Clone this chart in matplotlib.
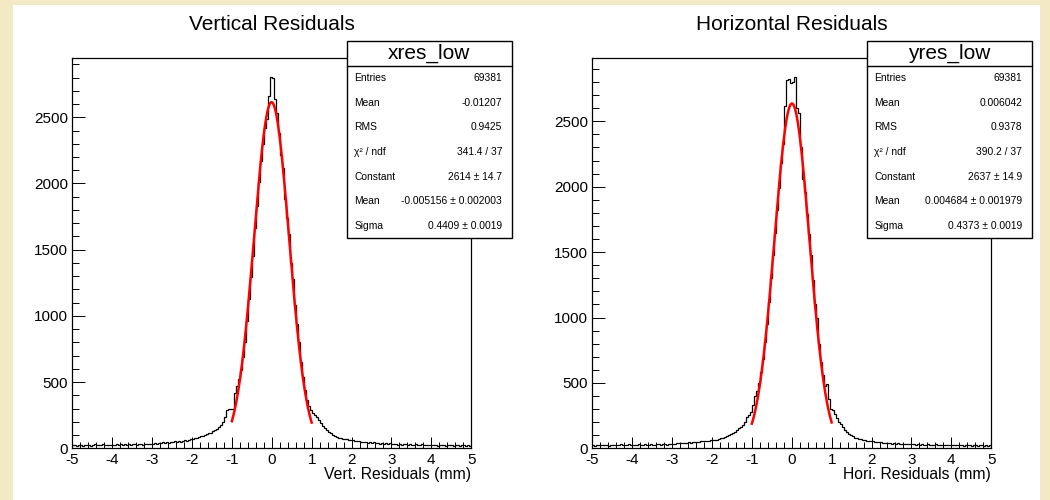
import numpy as np
import matplotlib
matplotlib.use("Agg")
import matplotlib.pyplot as plt
from matplotlib.patches import Rectangle
from matplotlib.ticker import MultipleLocator

plt.rcParams['font.family'] = ['Liberation Sans', 'DejaVu Sans']

# ---------------- data ----------------
bin_lo, bin_hi, n_bins = -5.0, 5.0, 200

xres_counts = [
    22, 25, 19, 27, 24, 21, 28, 23, 26, 20,
    25, 29, 22, 27, 24, 30, 23, 26, 28, 25,
    27, 24, 31, 26, 29, 25, 32, 28, 30, 27,
    33, 29, 26, 34, 31, 28, 35, 30, 33, 36,
    34, 38, 36, 41, 39, 44, 40, 46, 43, 48,
    45, 52, 49, 55, 51, 58, 60, 57, 64, 67,
    72, 76, 80, 84, 90, 96, 101, 106, 112, 118,
    128, 138, 146, 158, 176, 196, 238, 288, 294, 300,
    300, 415, 470, 520, 590, 690, 800, 960, 1130, 1290,
    1450, 1660, 1830, 2010, 2170, 2300, 2420, 2490, 2660, 2805,
    2800, 2640, 2530, 2380, 2215, 2120, 1880, 1740, 1620, 1400,
    1280, 1080, 940, 800, 650, 540, 440, 365, 320, 290,
    270, 250, 235, 215, 190, 170, 155, 140, 122, 115,
    100, 96, 82, 76, 78, 72, 74, 70, 66, 62,
    60, 57, 52, 55, 48, 50, 45, 47, 42, 44,
    40, 46, 38, 41, 36, 39, 35, 43, 34, 37,
    33, 30, 35, 28, 31, 27, 32, 29, 26, 30,
    25, 28, 31, 24, 27, 29, 23, 26, 28, 25,
    22, 27, 24, 21, 26, 23, 25, 20, 24, 22,
    27, 21, 23, 25, 20, 24, 22, 19, 23, 21,
]

yres_counts = [
    24, 21, 27, 23, 26, 22, 28, 25, 20, 27,
    24, 29, 22, 26, 30, 23, 27, 25, 31, 24,
    28, 26, 22, 30, 27, 25, 33, 28, 24, 31,
    29, 27, 34, 30, 26, 32, 35, 29, 33, 31,
    36, 34, 39, 37, 41, 38, 44, 40, 46, 43,
    48, 45, 50, 47, 53, 55, 52, 58, 56, 61,
    60, 64, 66, 70, 75, 80, 86, 92, 100, 108,
    115, 122, 140, 152, 160, 175, 200, 240, 255, 280,
    330, 400, 440, 500, 580, 680, 810, 950, 1120, 1300,
    1480, 1650, 1820, 1990, 2180, 2330, 2620, 2815, 2825, 2790,
    2800, 2840, 2600, 2560, 2300, 2060, 1960, 1790, 1640, 1480,
    1284, 1100, 1000, 801, 661, 560, 480, 495, 380, 300,
    290, 265, 230, 200, 185, 160, 140, 125, 110, 100,
    95, 82, 80, 70, 72, 62, 65, 58, 55, 52,
    54, 48, 50, 45, 47, 42, 44, 40, 38, 42,
    36, 39, 35, 37, 33, 36, 32, 35, 31, 34,
    30, 33, 28, 31, 27, 30, 26, 29, 32, 25,
    28, 26, 30, 24, 27, 25, 29, 23, 26, 28,
    24, 22, 27, 25, 23, 26, 21, 24, 22, 25,
    20, 23, 26, 21, 24, 22, 19, 23, 21, 24,
]

# Gaussian fit parameters (constant, mean, sigma) and fit range
xres_fit = (2614.0, -0.005156, 0.4409)
yres_fit = (2637.0, 0.004684, 0.4373)
fit_range = (-1.0, 1.0)

stat_labels = ["Entries", "Mean", "RMS", "\u03c7\u00b2 / ndf", "Constant", "Mean", "Sigma"]
xres_stat_values = ["69381", "-0.01207", "0.9425", "341.4 / 37",
                    "2614 \u00b1 14.7", "-0.005156 \u00b1 0.002003", "0.4409 \u00b1 0.0019"]
yres_stat_values = ["69381", "0.006042", "0.9378", "390.2 / 37",
                    "2637 \u00b1 14.9", "0.004684 \u00b1 0.001979", "0.4373 \u00b1 0.0019"]

titles = ["Vertical Residuals", "Horizontal Residuals"]
hist_names = ["xres_low", "yres_low"]
xlabels = ["Vert. Residuals (mm)", "Hori. Residuals (mm)"]
xtick_vals = [-5, -4, -3, -2, -1, 0, 1, 2, 3, 4, 5]
ytick_vals = [0, 500, 1000, 1500, 2000, 2500]

# ---------------- figure ----------------
W, H = 1050, 500
fig = plt.figure(figsize=(W / 100, H / 100), dpi=100)
fig.patch.set_facecolor('#f4e9c5')


def fx(px):
    return px / W


def fy(py):
    return 1 - py / H


# white canvas area
fig.add_artist(Rectangle((fx(13), 0), fx(1040) - fx(13), fy(5), transform=fig.transFigure,
                         facecolor='white', edgecolor='none', zorder=0))

edges = np.linspace(bin_lo, bin_hi, n_bins + 1)
panels = [
    (xres_counts, xres_fit, xres_stat_values),
    (yres_counts, yres_fit, yres_stat_values),
]

for k, (counts, fit, stat_vals) in enumerate(panels):
    off = 520 * k
    ax_l, ax_r, ax_t, ax_b = 72.3 + off, 471.2 + off, 58.3, 448.3
    ax = fig.add_axes([fx(ax_l), fy(ax_b), fx(ax_r - ax_l), (ax_b - ax_t) / H])
    ax.set_facecolor('white')
    ax.stairs(counts, edges, color='black', linewidth=0.9, baseline=None)
    A, mu, sg = fit
    xf = np.linspace(fit_range[0], fit_range[1], 300)
    ax.plot(xf, A * np.exp(-0.5 * ((xf - mu) / sg) ** 2), color='#ff0000', linewidth=1.8)
    ax.set_xlim(bin_lo, bin_hi)
    ax.set_ylim(0, 1.05 * max(counts))
    ax.set_xticks(xtick_vals)
    ax.set_xticklabels([str(v) for v in xtick_vals])
    ax.set_yticks(ytick_vals)
    ax.set_yticklabels([str(v) for v in ytick_vals])
    ax.xaxis.set_minor_locator(MultipleLocator(0.2))
    ax.yaxis.set_minor_locator(MultipleLocator(100))
    ax.tick_params(axis='x', which='major', direction='in', length=8, width=0.7,
                   labelsize=11, pad=3.4, top=False)
    ax.tick_params(axis='x', which='minor', direction='in', length=4.3, width=0.7, top=False)
    ax.tick_params(axis='y', which='major', direction='in', length=9, width=0.7,
                   labelsize=11, pad=3, right=False)
    ax.tick_params(axis='y', which='minor', direction='in', length=4.8, width=0.7, right=False)
    for s in ax.spines.values():
        s.set_linewidth(0.9)
        s.set_color('black')

    # title and x label
    fig.text(fx((ax_l + ax_r) / 2), fy(25), titles[k], ha='center', va='center', fontsize=15)
    fig.text(fx(ax_r), fy(475), xlabels[k], ha='right', va='center', fontsize=11.3)

    # stats box
    bl, br, bt, bb, bsep = 346.7 + off, 511.7 + off, 41.0, 238.0, 65.5
    fig.add_artist(Rectangle((fx(bl), fy(bb)), fx(br - bl), (bb - bt) / H,
                             transform=fig.transFigure, facecolor='white',
                             edgecolor='black', linewidth=1.0, zorder=5))
    fig.add_artist(plt.Line2D([fx(bl), fx(br)], [fy(bsep), fy(bsep)],
                              transform=fig.transFigure, color='black', linewidth=1.0, zorder=6))
    fig.text(fx((bl + br) / 2), fy(53), hist_names[k], ha='center', va='center',
             fontsize=15, zorder=7)
    row_y = [78.0, 102.5, 127.2, 151.7, 176.6, 201.3, 225.8]
    for lab, val, ry in zip(stat_labels, stat_vals, row_y):
        fig.text(fx(bl + 7.5), fy(ry), lab, ha='left', va='center', fontsize=7.4, zorder=7)
        fig.text(fx(br - 9.5), fy(ry), val, ha='right', va='center', fontsize=7.4, zorder=7)

fig.savefig("out.png", dpi=100, facecolor=fig.get_facecolor())
